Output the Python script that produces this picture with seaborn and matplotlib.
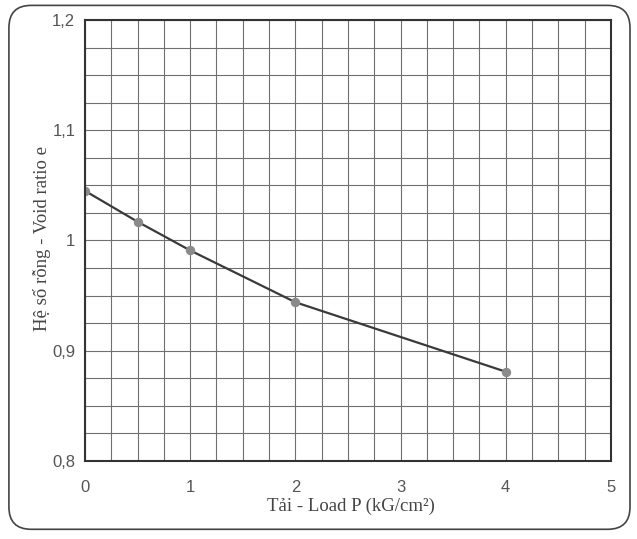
import matplotlib
matplotlib.use("Agg")
import matplotlib.pyplot as plt
import numpy as np
import pandas as pd
import seaborn as sns
from matplotlib.patches import FancyBboxPatch

load_p = [0, 0.5, 1, 2, 4]
void_ratio = [1.045, 1.017, 0.991, 0.944, 0.881]
x_ticks = [0, 1, 2, 3, 4, 5]
y_ticks = [0.8, 0.9, 1.0, 1.1, 1.2]
y_tick_labels = ["0,8", "0,9", "1", "1,1", "1,2"]

sns.set_style("white")
plt.rcParams['font.family'] = ['Liberation Sans', 'DejaVu Sans']

df = pd.DataFrame({"P": load_p, "e": void_ratio})

fig = plt.figure(figsize=(6.37, 5.39), dpi=100)
ax = fig.add_axes([0.1334, 0.1447, 0.8256, 0.8183])

# rounded frame around the whole figure
frame = FancyBboxPatch((0.014, 0.018), 0.975, 0.972, boxstyle="round,pad=0,rounding_size=0.035",
                       transform=fig.transFigure, fill=False, edgecolor="#444444", linewidth=1.2,
                       mutation_aspect=637/539)
fig.patches.append(frame)

sns.lineplot(data=df, x="P", y="e", ax=ax, color="#3a3a3a", linewidth=1.6,
             marker="o", markersize=6, markerfacecolor="#8a8a8a", markeredgecolor="#8a8a8a")

ax.set_xlim(0, 5)
ax.set_ylim(0.8, 1.2)
ax.set_xticks(x_ticks)
ax.set_xticks(np.arange(0, 5.01, 0.25), minor=True)
ax.set_yticks(y_ticks)
ax.set_yticklabels(y_tick_labels)
ax.set_yticks(np.arange(0.8, 1.2001, 0.025), minor=True)
ax.grid(which="both", color="#6f6f6f", linewidth=0.8)
ax.tick_params(axis="y", which="major", length=4, color="#888888", labelsize=12, labelcolor="#555555", pad=3)
ax.tick_params(axis="x", which="major", length=4, color="#888888", labelsize=12, labelcolor="#555555", pad=10)
ax.tick_params(which="minor", length=0)
for s in ax.spines.values():
    s.set_color("#333333")
    s.set_linewidth(1.5)

ax.set_xlabel("")
ax.set_ylabel("")
ax.text(0.505, -0.103, "Tải - Load P (kG/cm²)", transform=ax.transAxes, ha="center", va="center",
        fontsize=13.5, color="#444444", family=["Liberation Serif", "DejaVu Serif"])
ax.text(-0.082, 0.505, "Hệ số rỗng - Void ratio e", transform=ax.transAxes, ha="center", va="center",
        rotation=90, fontsize=13.5, color="#444444", family=["Liberation Serif", "DejaVu Serif"])

fig.savefig("out.png", dpi=100)
